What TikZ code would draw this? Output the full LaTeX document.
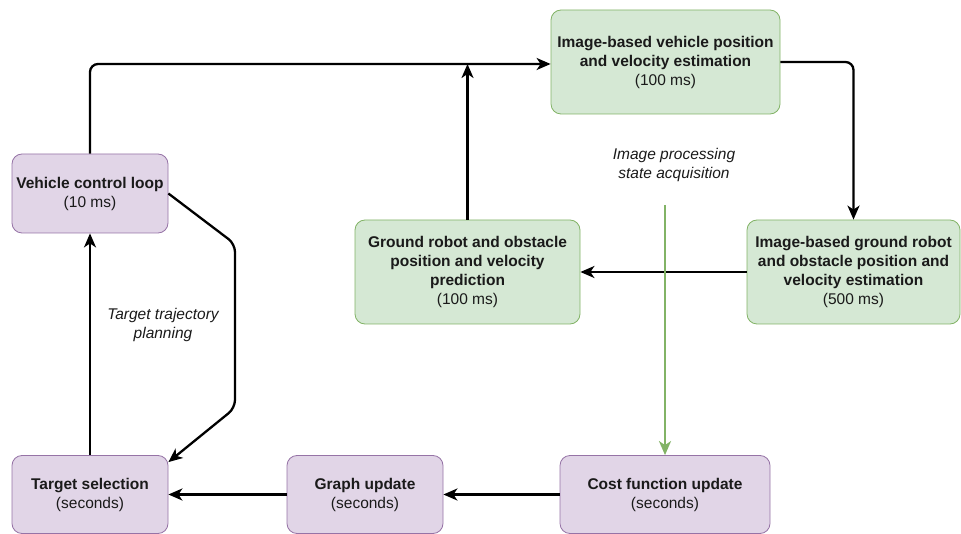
\documentclass[tikz,border=0pt]{standalone}
\usepackage{fontspec}
\setmainfont{Liberation Sans}
\usetikzlibrary{arrows.meta}
\definecolor{purplefill}{HTML}{E1D5E7}
\definecolor{purpleline}{HTML}{9673A6}
\definecolor{greenfill}{HTML}{D5E8D4}
\definecolor{greenline}{HTML}{82B366}
\definecolor{textgray}{HTML}{1A1A1A}
\tikzset{
  box/.style={draw, rounded corners=10pt, line width=0.8pt, align=center,
    inner sep=2pt, font=\fontsize{15.5}{19}\selectfont, text=textgray},
  pbox/.style={box, fill=purplefill, draw=purpleline},
  gbox/.style={box, fill=greenfill, draw=greenline},
  flow/.style={line width=2.3pt, rounded corners=8pt,
    -{Stealth[length=14pt,width=12pt,inset=4pt]}},
  gflow/.style={flow, draw=greenline},
  lbl/.style={align=center, font=\fontsize{15.5}{19}\selectfont\itshape, text=textgray}
}
\begin{document}
\begin{tikzpicture}[x=1pt,y=-1pt]
\useasboundingbox (0,0) rectangle (961,534);

% process boxes
\node[pbox, minimum width=156pt, minimum height=79pt] (vcl) at (90,193.5)
  {\textbf{Vehicle control loop}\\(10 ms)};
\node[gbox, minimum width=229pt, minimum height=104pt] (ivp) at (665.5,62)
  {\textbf{Image-based vehicle position}\\\textbf{and velocity estimation}\\(100 ms)};
\node[gbox, minimum width=225pt, minimum height=104pt] (grp) at (467.5,272)
  {\textbf{Ground robot and obstacle}\\\textbf{position and velocity}\\\textbf{prediction}\\(100 ms)};
\node[gbox, minimum width=213pt, minimum height=104pt] (gre) at (853.5,272)
  {\textbf{Image-based ground robot}\\\textbf{and obstacle position and}\\\textbf{velocity estimation}\\(500 ms)};
\node[pbox, minimum width=156pt, minimum height=78pt] (ts) at (90,494.5)
  {\textbf{Target selection}\\(seconds)};
\node[pbox, minimum width=156pt, minimum height=78pt] (gu) at (365,494.5)
  {\textbf{Graph update}\\(seconds)};
\node[pbox, minimum width=210pt, minimum height=78pt] (cf) at (665,494.5)
  {\textbf{Cost function update}\\(seconds)};

% labels
\node[lbl] (l1) at (163,325) {Target trajectory\\planning};
\node[lbl] (l2) at (674,165) {Image processing\\state acquisition};

% helper points
\coordinate (top) at (90,64);
\coordinate (k1) at (235,244);
\coordinate (k2) at (235,408);
\coordinate (gs) at (665,205);

% connectors
\draw[flow] (vcl.north) -- (top) -- (ivp.west |- top);
\draw[flow] (grp.north) -- (grp.north |- top);
\draw[flow] (ivp.east) -- (ivp.east -| gre.north) -- (gre.north);
\draw[flow] (gre.west) -- (grp.east);
\draw[gflow] (gs) -- (cf.north);
\draw[flow] (cf.west) -- (gu.east);
\draw[flow] (gu.west) -- (ts.east);
\draw[flow] (ts.north) -- (vcl.south);
\draw[flow] (vcl.east) -- (k1) -- (k2) -- ([yshift=-7pt]ts.north east);
\end{tikzpicture}
\end{document}
